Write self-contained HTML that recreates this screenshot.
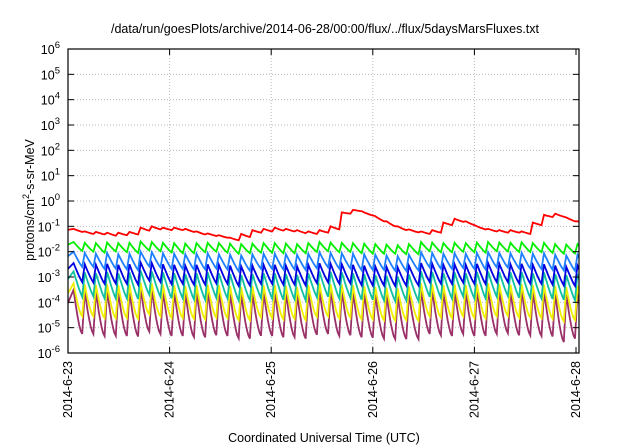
<!DOCTYPE html>
<html><head><meta charset="utf-8"><style>
html,body{margin:0;padding:0;background:#fff;}
svg{display:block;font-family:"Liberation Sans",Arial,sans-serif;}
</style></head><body>
<svg id="chart" width="640" height="448" viewBox="0 0 640 448" xmlns="http://www.w3.org/2000/svg">
<text x="325" y="33" font-size="12.5" text-anchor="middle">/data/run/goesPlots/archive/2014-06-28/00:00/flux/../flux/5daysMarsFluxes.txt</text>
<text x="324" y="442" font-size="12.5" text-anchor="middle">Coordinated Universal Time (UTC)</text>
<text transform="translate(34,200) rotate(-90)" font-size="12.5" text-anchor="middle">protons/cm<tspan dy="-5" font-size="9">2</tspan><tspan dy="5">-s-sr-MeV</tspan></text>
<g id="grid"></g>
<g id="series"></g>
<g id="axes"></g>
</svg>
<script>
const xTickLabels = ["2014-6-23","2014-6-24","2014-6-25","2014-6-26","2014-6-27","2014-6-28"];
const yTickExps = [-6,-5,-4,-3,-2,-1,0,1,2,3,4,5,6];
const toothTimes = [0.03,0.14,0.25,0.36,0.47,0.58,0.69,0.80,0.91,1.02,1.13,1.24,1.35,1.46,1.57,1.68,1.79,1.90,2.01,2.12,2.23,2.34,2.45,2.56,2.67,2.78,2.89,3.00,3.11,3.22,3.33,3.45,3.56,3.67,3.78,3.89,4.00,4.11,4.22,4.33,4.44,4.55,4.66,4.77,4.88,4.99];
const seriesColors = ["#ff0000","#00ee00","#1e7fff","#0000e0","#10c0a0","#f0f000","#9a3068"];
const redPeaks = [-1.1,-1.2,-1.22,-1.25,-1.25,-1.22,-1.05,-1.0,-1.05,-1.05,-1.1,-1.2,-1.28,-1.35,-1.45,-1.3,-1.15,-1.1,-1.05,-1.1,-1.15,-1.2,-1.15,-1.0,-0.45,-0.35,-0.45,-0.6,-0.8,-1.0,-1.12,-1.2,-1.15,-0.85,-0.7,-0.8,-1.0,-1.1,-1.15,-1.15,-1.2,-0.85,-0.55,-0.5,-0.65,-0.8];
const redDepths = [0.12,0.1,0.1,0.12,0.1,0.1,0.12,0.12,0.1,0.1,0.12,0.12,0.1,0.1,0.1,0.12,0.1,0.1,0.12,0.1,0.12,0.1,0.1,0.12,0.05,0.05,0.12,0.2,0.2,0.15,0.12,0.1,0.1,0.1,0.12,0.15,0.12,0.1,0.1,0.1,0.1,0.1,0.08,0.12,0.15,0.12];
const greenPeaks = [-1.62,-1.65,-1.66,-1.64,-1.66,-1.65,-1.6,-1.62,-1.65,-1.66,-1.68,-1.66,-1.65,-1.66,-1.68,-1.7,-1.68,-1.66,-1.66,-1.68,-1.7,-1.66,-1.62,-1.64,-1.65,-1.66,-1.68,-1.7,-1.72,-1.75,-1.7,-1.62,-1.64,-1.66,-1.65,-1.66,-1.64,-1.62,-1.64,-1.65,-1.63,-1.66,-1.65,-1.7,-1.72,-1.7];
const greenDepths = [0.35,0.35,0.38,0.35,0.36,0.4,0.35,0.36,0.38,0.4,0.38,0.36,0.35,0.38,0.4,0.36,0.36,0.38,0.4,0.38,0.36,0.35,0.36,0.38,0.36,0.4,0.4,0.38,0.36,0.35,0.4,0.36,0.38,0.36,0.35,0.36,0.4,0.36,0.35,0.36,0.38,0.36,0.4,0.38,0.35,0.36];
const lightBluePeaks = [-2.0,-2.05,-2.08,-2.05,-2.1,-2.08,-2.0,-2.02,-2.06,-2.08,-2.1,-2.08,-2.06,-2.1,-2.12,-2.15,-2.1,-2.08,-2.08,-2.1,-2.12,-2.08,-2.02,-2.05,-2.06,-2.08,-2.1,-2.12,-2.15,-2.18,-2.12,-2.02,-2.05,-2.08,-2.06,-2.08,-2.05,-2.02,-2.05,-2.06,-2.04,-2.08,-2.06,-2.12,-2.15,-2.12];
const lightBlueDepths = [0.6,0.55,0.6,0.62,0.6,0.65,0.58,0.6,0.62,0.6,0.6,0.62,0.6,0.6,0.65,0.6,0.58,0.6,0.62,0.6,0.6,0.58,0.6,0.62,0.6,0.65,0.62,0.6,0.6,0.58,0.62,0.6,0.62,0.6,0.58,0.6,0.65,0.6,0.58,0.6,0.62,0.6,0.65,0.62,0.6,0.6];
const bluePeaks = [-2.45,-2.5,-2.52,-2.48,-2.52,-2.5,-2.42,-2.45,-2.5,-2.52,-2.55,-2.52,-2.5,-2.52,-2.55,-2.58,-2.55,-2.52,-2.52,-2.55,-2.58,-2.52,-2.46,-2.48,-2.5,-2.52,-2.55,-2.58,-2.6,-2.62,-2.55,-2.45,-2.48,-2.52,-2.5,-2.52,-2.48,-2.45,-2.48,-2.5,-2.48,-2.52,-2.5,-2.55,-2.6,-2.55];
const blueDepths = [0.75,0.72,0.75,0.78,0.75,0.8,0.72,0.75,0.78,0.75,0.75,0.78,0.75,0.75,0.8,0.75,0.72,0.75,0.78,0.75,0.75,0.72,0.75,0.78,0.75,0.8,0.78,0.75,0.75,0.72,0.78,0.75,0.78,0.75,0.72,0.75,0.8,0.75,0.72,0.75,0.78,0.75,0.8,0.78,0.75,0.75];
const tealPeaks = [-2.78,-2.82,-2.85,-2.8,-2.85,-2.82,-2.75,-2.78,-2.82,-2.85,-2.88,-2.85,-2.82,-2.85,-2.88,-2.92,-2.88,-2.85,-2.85,-2.88,-2.92,-2.85,-2.78,-2.8,-2.82,-2.85,-2.88,-2.92,-2.95,-2.98,-2.9,-2.78,-2.8,-2.85,-2.82,-2.85,-2.8,-2.78,-2.8,-2.82,-2.8,-2.85,-2.82,-2.88,-2.92,-2.88];
const tealDepths = [1.0,0.95,1.0,1.05,1.0,1.05,0.95,1.0,1.02,1.0,1.0,1.05,1.0,1.0,1.05,1.0,0.95,1.0,1.05,1.0,1.0,0.95,1.0,1.05,1.0,1.05,1.02,1.0,1.0,0.95,1.05,1.0,1.02,1.0,0.95,1.0,1.05,1.0,0.95,1.0,1.02,1.0,1.05,1.02,1.0,1.0];
const yellowPeaks = [-3.25,-3.3,-3.32,-3.28,-3.32,-3.3,-3.22,-3.25,-3.3,-3.32,-3.35,-3.32,-3.3,-3.32,-3.35,-3.4,-3.35,-3.32,-3.32,-3.35,-3.4,-3.32,-3.25,-3.28,-3.3,-3.32,-3.35,-3.4,-3.42,-3.45,-3.38,-3.25,-3.28,-3.32,-3.3,-3.32,-3.28,-3.25,-3.28,-3.3,-3.28,-3.32,-3.3,-3.35,-3.4,-3.35];
const yellowDepths = [1.3,1.25,1.3,1.35,1.3,1.35,1.25,1.3,1.32,1.3,1.3,1.35,1.3,1.3,1.35,1.3,1.25,1.3,1.35,1.3,1.3,1.25,1.3,1.35,1.3,1.35,1.32,1.3,1.3,1.25,1.35,1.3,1.32,1.3,1.25,1.3,1.35,1.3,1.25,1.3,1.32,1.3,1.35,1.4,1.3,1.3];
const maroonPeaks = [-3.5,-3.55,-3.58,-3.52,-3.58,-3.55,-3.45,-3.5,-3.55,-3.58,-3.62,-3.58,-3.55,-3.58,-3.62,-3.68,-3.62,-3.58,-3.58,-3.62,-3.68,-3.58,-3.5,-3.52,-3.55,-3.58,-3.62,-3.68,-3.7,-3.75,-3.65,-3.5,-3.52,-3.58,-3.55,-3.58,-3.52,-3.5,-3.52,-3.55,-3.52,-3.58,-3.55,-3.62,-3.68,-3.6];
const maroonDepths = [1.75,1.7,1.75,1.8,1.75,1.8,1.7,1.75,1.78,1.75,1.75,1.8,1.75,1.75,1.8,1.75,1.7,1.75,1.8,1.75,1.75,1.7,1.75,1.8,1.75,1.8,1.78,1.75,1.75,1.7,1.8,1.75,1.78,1.75,1.7,1.75,1.8,1.75,1.7,1.75,1.78,1.75,1.8,1.95,1.75,1.75];

const NS = "http://www.w3.org/2000/svg";
const L = 68, R = 579, T = 49, B = 353;
const dayW = (576 - 68) / 5;
function xScale(d) { return L + d * dayW; }
function yScale(lg) { return T + (6 - lg) * (B - T) / 12; }
function mk(tag, attrs, parent) {
  const e = document.createElementNS(NS, tag);
  for (const k in attrs) e.setAttribute(k, attrs[k]);
  parent.appendChild(e);
  return e;
}
const grid = document.getElementById('grid');
const axes = document.getElementById('axes');
const seriesG = document.getElementById('series');
yTickExps.forEach(function (ex) {
  const y = yScale(ex);
  if (ex > -6 && ex < 6) {
    const g = mk('line', {x1: L, x2: R, y1: y, y2: y, stroke: '#bbb', 'stroke-width': 1, 'stroke-dasharray': '1,2'}, grid);
    
    
  }
  const t1 = mk('line', {x1: L, x2: L + 6, y1: y, y2: y, stroke: '#000'}, axes);
  
  
  const t2 = mk('line', {x1: R - 6, x2: R, y1: y, y2: y, stroke: '#000'}, axes);
  
  
  const tx = mk('text', {x: 60, y: y + 5, 'font-size': 12.5, 'text-anchor': 'end'}, axes);
  
  
  tx.innerHTML = '10<tspan dy="-6" font-size="9.5">' + ex + '</tspan>';
});
xTickLabels.forEach(function (lab, i) {
  const x = xScale(i);
  if (i > 0 && i < 5) {
    const g = mk('line', {x1: x, x2: x, y1: T, y2: B, stroke: '#bbb', 'stroke-width': 1, 'stroke-dasharray': '1,2'}, grid);
    
    
  }
  const t1 = mk('line', {x1: x, x2: x, y1: B, y2: B - 6, stroke: '#000'}, axes);
  
  
  const t2 = mk('line', {x1: x, x2: x, y1: T, y2: T + 6, stroke: '#000'}, axes);
  
  
  const tx = mk('text', {transform: 'translate(' + (x + 4) + ',361) rotate(-90)', 'font-size': 12.5, 'text-anchor': 'end'}, axes);
  
  
  tx.textContent = lab;
});
const frame = mk('rect', {x: L, y: T, width: R - L, height: B - T, fill: 'none', stroke: '#000', 'stroke-width': 1.2}, axes);



const allSeries = [
  ['red-flux-line', redPeaks, redDepths],
  ['green-flux-line', greenPeaks, greenDepths],
  ['light-blue-flux-line', lightBluePeaks, lightBlueDepths],
  ['blue-flux-line', bluePeaks, blueDepths],
  ['teal-flux-line', tealPeaks, tealDepths],
  ['yellow-flux-line', yellowPeaks, yellowDepths],
  ['maroon-flux-line', maroonPeaks, maroonDepths]
];
const clip = mk('clipPath', {id: 'pc'}, document.getElementById('chart'));
mk('rect', {x: L, y: T, width: R - L, height: B - T}, clip);
seriesG.setAttribute('clip-path', 'url(#pc)');
allSeries.slice().reverse().forEach(function (s) {
  const idx = allSeries.indexOf(s);
  const peaks = s[1], depths = s[2];
  const rise = 0.025;
  const expo = idx >= 5 ? 1.5 : 1.15;
  let d = 'M' + xScale(0).toFixed(1) + ',' + yScale(peaks[0] - depths[0] * 0.3).toFixed(1);
  for (let i = 0; i < toothTimes.length; i++) {
    const t0 = toothTimes[i];
    const t1 = i + 1 < toothTimes.length ? toothTimes[i + 1] : 5.1;
    d += 'L' + xScale(t0 + rise).toFixed(1) + ',' + yScale(peaks[i]).toFixed(1);
    for (let k = 1; k <= 6; k++) {
      const f = k / 6;
      const v = peaks[i] - depths[i] * (1 - Math.pow(1 - f, expo));
      d += 'L' + xScale(t0 + rise + (t1 - t0 - rise) * f).toFixed(1) + ',' + yScale(v).toFixed(1);
    }
  }
  const p = mk('path', {d: d, fill: 'none', stroke: seriesColors[idx], 'stroke-width': 1.8, 'stroke-linejoin': 'miter'}, seriesG);
  
  
});
</script>
</body></html>
